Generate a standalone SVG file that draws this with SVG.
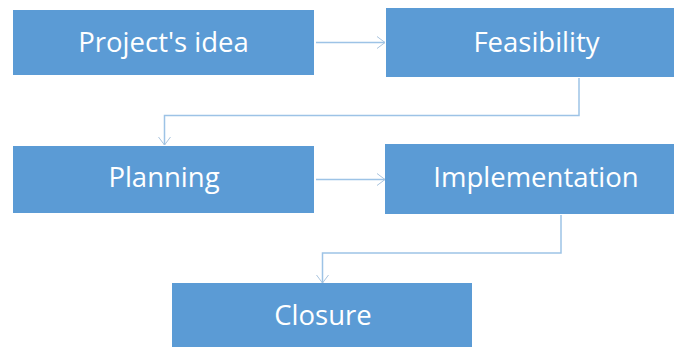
<svg xmlns="http://www.w3.org/2000/svg" width="674" height="347" viewBox="0 0 674 347">
  <style>
    .box { fill: #5B9BD5; }
    .label { fill: #FFFFFF; font-family: "Open Sans", "Liberation Sans", sans-serif; font-size: 27.5px; text-anchor: middle; }
    .conn { fill: none; stroke: #9DC3E6; stroke-width: 1.5; marker-end: url(#chev); }
  </style>
  <defs>
    <marker id="chev" viewBox="0 0 10 14" refX="10" refY="7" markerWidth="10" markerHeight="14" markerUnits="userSpaceOnUse" orient="auto">
      <path d="M2,1 L10,7 L2,13" fill="none" stroke="#A9C4DE" stroke-width="1"/>
    </marker>
  </defs>
  <rect width="674" height="347" fill="#FFFFFF"/>

  <g id="connectors">
    <path class="conn" d="M316,42.5 H385"/>
    <path class="conn" d="M579,78 V115.5 H164.5 V145"/>
    <path class="conn" d="M316,179.5 H385"/>
    <path class="conn" d="M561,215 V253 H322.5 V283"/>
  </g>

  <g id="node-idea">
    <rect class="box" x="13" y="10" width="301" height="65"/>
    <text class="label" x="163.5" y="52">Project's idea</text>
  </g>
  <g id="node-feasibility">
    <rect class="box" x="386" y="8" width="301" height="69"/>
    <text class="label" x="536.5" y="52">Feasibility</text>
  </g>
  <g id="node-planning">
    <rect class="box" x="13" y="146" width="301" height="67"/>
    <text class="label" x="164" y="186.5">Planning</text>
  </g>
  <g id="node-implementation">
    <rect class="box" x="385" y="144" width="302" height="70"/>
    <text class="label" x="536" y="186.5">Implementation</text>
  </g>
  <g id="node-closure">
    <rect class="box" x="172" y="283" width="300" height="64"/>
    <text class="label" x="323" y="325">Closure</text>
  </g>
</svg>
